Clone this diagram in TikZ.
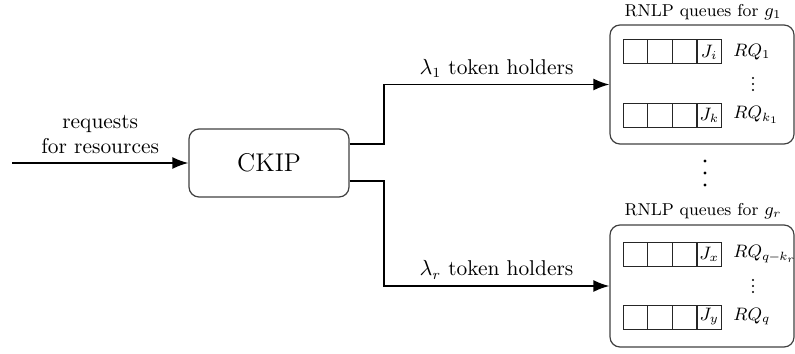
\documentclass[tikz,border=0pt]{standalone}
\usetikzlibrary{arrows.meta,calc}
\begin{document}
\begin{tikzpicture}[x=0.5pt,y=-0.5pt,
  font=\fontsize{10.7}{12.6}\selectfont,
  box/.style={draw=black!75,line width=0.6pt,rounded corners=5pt,inner sep=0pt},
  arr/.style={line width=0.9pt,-{Latex[length=8pt,width=6pt]}},
  cell/.style={draw=black!85,line width=0.5pt},
  cellnode/.style={draw=black!85,line width=0.5pt,minimum width=12.25pt,minimum height=12pt,inner sep=0pt,font=\fontsize{8.6}{10}\selectfont},
  rqlabel/.style={anchor=west,inner sep=0pt,font=\fontsize{8.6}{10}\selectfont},
  title/.style={font=\fontsize{8.6}{10}\selectfont,inner sep=0pt}]
\useasboundingbox (0,0) rectangle (795,353);
% CKIP
\node[box,minimum width=80pt,minimum height=34pt,font=\fontsize{12.8}{15}\selectfont] (ckip) at (269,163) {CKIP};
\coordinate (src) at (12,163);
\draw[arr] (src) -- node[above,align=center,inner sep=4pt] (reqlbl) {requests\\for resources} (ckip.west);
% group boxes
\node[box,minimum width=92pt,minimum height=59.5pt] (g1) at (702,84.5) {};
\node[box,minimum width=92pt,minimum height=61pt] (gr) at (702,286) {};
\node[title] (t1) at (703,12) {RNLP queues for $g_1$};
\node[title] (tr) at (703,211) {RNLP queues for $g_r$};
% arrows
\draw[arr] ($(ckip.east)+(0,-19)$) -- ++(34,0) |- node[pos=0.75,above,inner sep=3pt] (l1) {$\lambda_1$ token holders} (g1.west);
\draw[arr] ($(ckip.east)+(0,18)$) -- ++(34,0) |- node[pos=0.75,above,inner sep=3pt] (lr) {$\lambda_r$ token holders} (gr.west);
% queue rows
\newcommand\queuerow[4]{%
  \foreach \i in {0,1,2} \draw[cell] (623+24.5*\i,#1) rectangle ++(24.5,24);
  \node[cellnode] (#4j) at (709.25,#1+12) {$#2$};
  \node[rqlabel] (#4q) at (733,#1+12) {$#3$};
}
\queuerow{40}{J_i}{RQ_1}{qa}
\queuerow{103}{J_k}{RQ_{k_1}}{qb}
\queuerow{242}{J_x}{RQ_{q\mskip-1mu-\mskip-1mu k_r}}{qc}
\queuerow{305}{J_y}{RQ_q}{qd}
% small vertical dots
\foreach \yy in {78,84,90} \fill (753,\yy) circle (0.55pt);
\foreach \yy in {280,286,292} \fill (753,\yy) circle (0.55pt);
% big dots
\foreach \yy in {161,173,185} \fill (705,\yy) circle (0.85pt);
\end{tikzpicture}
\end{document}
